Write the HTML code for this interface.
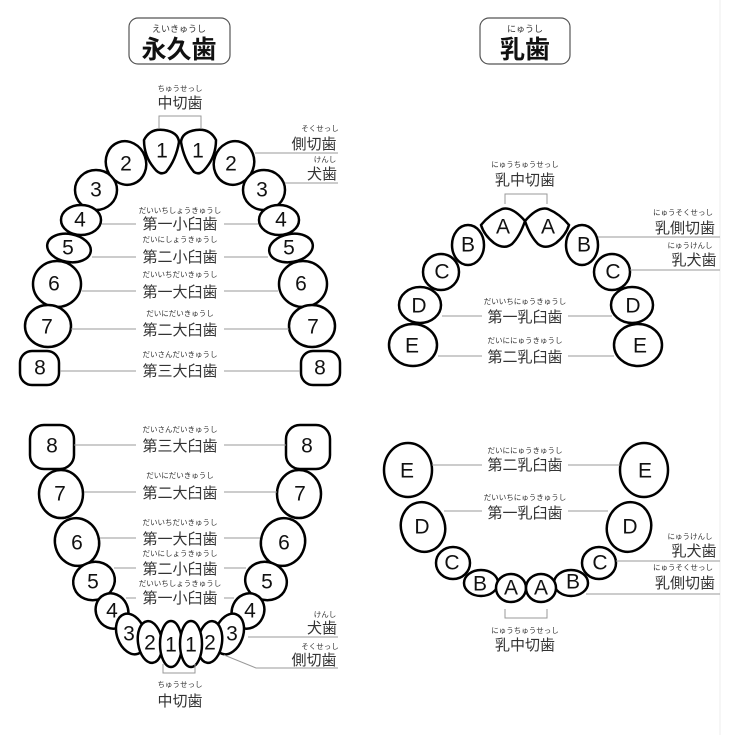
<!DOCTYPE html>
<html><head><meta charset="utf-8"><style>
html,body{margin:0;padding:0;background:#fff;width:750px;height:735px;overflow:hidden}
svg{display:block}
.t{fill:#fff;stroke:#000;stroke-width:2.5}
.n{font-family:"Liberation Sans",sans-serif;font-size:21px;text-anchor:middle;dominant-baseline:central;fill:#111}
.k{font-family:"Liberation Sans","Noto Sans CJK JP",sans-serif;font-size:15px;fill:#333;text-anchor:middle}
.r{font-family:"Liberation Sans","Noto Sans CJK JP",sans-serif;font-size:7.5px;fill:#333;text-anchor:middle}
.l{stroke:#999;stroke-width:1;fill:none}
</style></head><body>
<svg width="750" height="735" viewBox="0 0 750 735">
<line x1="720" y1="0" x2="720" y2="735" stroke="#eee" stroke-width="1"/>
<!-- titles -->
<rect x="129" y="18" width="101" height="46" rx="9" fill="#fff" stroke="#555" stroke-width="1.2"/>
<text class="r" x="179" y="32" style="font-size:9px">えいきゅうし</text>
<text class="k" x="179" y="58" style="font-size:25px;fill:#111;font-weight:bold">永久歯</text>
<rect x="480" y="18" width="90" height="46" rx="9" fill="#fff" stroke="#555" stroke-width="1.2"/>
<text class="r" x="525" y="32" style="font-size:9px">にゅうし</text>
<text class="k" x="525" y="58" style="font-size:25px;fill:#111;font-weight:bold">乳歯</text>

<!-- ===== Upper permanent ===== -->
<text class="r" x="180" y="91">ちゅうせっし</text>
<text class="k" x="180" y="108">中切歯</text>
<path class="l" d="M159 128V116H201V128"/>
<g>
<path class="t" d="M144 140 Q150 128 164 130 Q178 132 179 142 Q176 160 166 172 Q160 176 154 168 Q144 156 144 140Z"/>
<path class="t" d="M216 140 Q210 128 196 130 Q182 132 181 142 Q184 160 194 172 Q200 176 206 168 Q216 156 216 140Z"/>
<text class="n" x="162" y="151">1</text><text class="n" x="198" y="151">1</text>
<ellipse class="t" cx="126" cy="163" rx="20" ry="22" transform="rotate(-20 126 163)"/>
<ellipse class="t" cx="234" cy="163" rx="20" ry="22" transform="rotate(20 234 163)"/>
<text class="n" x="126" y="164">2</text><text class="n" x="231" y="164">2</text>
<ellipse class="t" cx="96" cy="190" rx="21" ry="20"/>
<ellipse class="t" cx="264" cy="190" rx="21" ry="20"/>
<text class="n" x="96" y="190">3</text><text class="n" x="262" y="190">3</text>
<ellipse class="t" cx="81" cy="220" rx="20" ry="15"/>
<ellipse class="t" cx="279" cy="220" rx="20" ry="15"/>
<text class="n" x="80" y="220">4</text><text class="n" x="281" y="220">4</text>
<ellipse class="t" cx="69" cy="248" rx="22" ry="14" transform="rotate(10 69 248)"/>
<ellipse class="t" cx="291" cy="248" rx="22" ry="14" transform="rotate(-10 291 248)"/>
<text class="n" x="68" y="248">5</text><text class="n" x="289" y="248">5</text>
<ellipse class="t" cx="57" cy="284" rx="24" ry="23"/>
<ellipse class="t" cx="303" cy="284" rx="24" ry="23"/>
<text class="n" x="54" y="284">6</text><text class="n" x="301" y="284">6</text>
<ellipse class="t" cx="48" cy="326" rx="23" ry="21"/>
<ellipse class="t" cx="312" cy="326" rx="23" ry="21"/>
<text class="n" x="47" y="327">7</text><text class="n" x="313" y="327">7</text>
<rect class="t" x="20" y="351" width="39" height="34" rx="12"/>
<rect class="t" x="301" y="351" width="39" height="34" rx="12"/>
<text class="n" x="40" y="368">8</text><text class="n" x="320" y="368">8</text>
</g>
<path class="l" d="M255 153H338M285 183H338"/>
<text class="r" x="320" y="131">そくせっし</text><text class="k" x="314" y="149" style="text-anchor:middle">側切歯</text>
<text class="r" x="325" y="162">けんし</text><text class="k" x="322" y="179">犬歯</text>
<g>
<text class="r" x="180" y="213">だいいちしょうきゅうし</text><text class="k" x="180" y="229">第一小臼歯</text>
<path class="l" d="M102 224H136M224 224H258"/>
<text class="r" x="180" y="242">だいにしょうきゅうし</text><text class="k" x="180" y="262">第二小臼歯</text>
<path class="l" d="M92 257H136M224 257H268"/>
<text class="r" x="180" y="277">だいいちだいきゅうし</text><text class="k" x="180" y="297">第一大臼歯</text>
<path class="l" d="M82 291H136M224 291H278"/>
<text class="r" x="180" y="316">だいにだいきゅうし</text><text class="k" x="180" y="335">第二大臼歯</text>
<path class="l" d="M71 329H136M224 329H289"/>
<text class="r" x="180" y="357">だいさんだいきゅうし</text><text class="k" x="180" y="376">第三大臼歯</text>
<path class="l" d="M60 371H136M224 371H300"/>
</g>

<!-- ===== Lower permanent ===== -->
<g>
<rect class="t" x="30" y="425" width="44" height="44" rx="14"/>
<rect class="t" x="286" y="425" width="44" height="44" rx="14"/>
<text class="n" x="52" y="446">8</text><text class="n" x="307" y="446">8</text>
<ellipse class="t" cx="61" cy="494" rx="22" ry="24"/>
<ellipse class="t" cx="299" cy="494" rx="22" ry="24"/>
<text class="n" x="60" y="494">7</text><text class="n" x="300" y="494">7</text>
<ellipse class="t" cx="77" cy="542" rx="22" ry="24" transform="rotate(-15 77 542)"/>
<ellipse class="t" cx="283" cy="542" rx="22" ry="24" transform="rotate(15 283 542)"/>
<text class="n" x="77" y="543">6</text><text class="n" x="284" y="543">6</text>
<ellipse class="t" cx="94" cy="581" rx="21" ry="19" transform="rotate(-20 94 581)"/>
<ellipse class="t" cx="266" cy="581" rx="21" ry="19" transform="rotate(20 266 581)"/>
<text class="n" x="93" y="582">5</text><text class="n" x="267" y="582">5</text>
<ellipse class="t" cx="112" cy="611" rx="16" ry="18" transform="rotate(-25 112 611)"/>
<ellipse class="t" cx="248" cy="611" rx="16" ry="18" transform="rotate(25 248 611)"/>
<text class="n" x="112" y="611">4</text><text class="n" x="250" y="611">4</text>
<ellipse class="t" cx="131" cy="634" rx="14" ry="21" transform="rotate(-20 131 634)"/>
<ellipse class="t" cx="229" cy="634" rx="14" ry="21" transform="rotate(20 229 634)"/>
<text class="n" x="129" y="634">3</text><text class="n" x="232" y="634">3</text>
<ellipse class="t" cx="150" cy="642" rx="12" ry="21" transform="rotate(-8 150 642)"/>
<ellipse class="t" cx="210" cy="642" rx="12" ry="21" transform="rotate(8 210 642)"/>
<text class="n" x="150" y="643">2</text><text class="n" x="210" y="643">2</text>
<ellipse class="t" cx="171" cy="644" rx="11" ry="23"/>
<ellipse class="t" cx="191" cy="644" rx="11" ry="23"/>
<text class="n" x="171" y="645">1</text><text class="n" x="191" y="645">1</text>
</g>
<g>
<text class="r" x="180" y="432">だいさんだいきゅうし</text><text class="k" x="180" y="451">第三大臼歯</text>
<path class="l" d="M74 445H136M224 445H286"/>
<text class="r" x="180" y="478">だいにだいきゅうし</text><text class="k" x="180" y="498">第二大臼歯</text>
<path class="l" d="M84 492H136M224 492H277"/>
<text class="r" x="180" y="525">だいいちだいきゅうし</text><text class="k" x="180" y="544">第一大臼歯</text>
<path class="l" d="M100 538H136M224 538H260"/>
<text class="r" x="180" y="556">だいにしょうきゅうし</text><text class="k" x="180" y="574">第二小臼歯</text>
<path class="l" d="M114 568H136M224 568H246"/>
<text class="r" x="180" y="586">だいいちしょうきゅうし</text><text class="k" x="180" y="603">第一小臼歯</text>
<path class="l" d="M126 598H136M224 598H234"/>
</g>
<text class="r" x="325" y="617">けんし</text><text class="k" x="322" y="633">犬歯</text>
<path class="l" d="M248 637H338"/>
<text class="r" x="320" y="649">そくせっし</text><text class="k" x="314" y="665">側切歯</text>
<path class="l" d="M224 655L256 668H338"/>
<path class="l" d="M163 664V673H195V664"/>
<text class="r" x="180" y="687">ちゅうせっし</text><text class="k" x="180" y="706">中切歯</text>

<!-- ===== Upper primary ===== -->
<text class="r" x="525" y="167">にゅうちゅうせっし</text>
<text class="k" x="525" y="185">乳中切歯</text>
<path class="l" d="M505 204V194H547V204"/>
<g>
<path class="t" d="M481 225 Q490 214 502 209 Q512 206 525 221 Q520 236 512 244 Q504 250 494 243 Q484 235 481 225Z"/>
<path class="t" d="M569 225 Q560 214 548 209 Q538 206 525 221 Q530 236 538 244 Q546 250 556 243 Q566 235 569 225Z"/>
<text class="n" x="503" y="227">A</text><text class="n" x="548" y="227">A</text>
<ellipse class="t" cx="468" cy="245" rx="16" ry="20"/>
<ellipse class="t" cx="582" cy="245" rx="16" ry="20"/>
<text class="n" x="468" y="245">B</text><text class="n" x="584" y="245">B</text>
<ellipse class="t" cx="441" cy="272" rx="18" ry="18"/>
<ellipse class="t" cx="612" cy="272" rx="18" ry="18"/>
<text class="n" x="442" y="272">C</text><text class="n" x="613" y="272">C</text>
<ellipse class="t" cx="420" cy="305" rx="21" ry="18"/>
<ellipse class="t" cx="632" cy="305" rx="21" ry="18"/>
<text class="n" x="419" y="306">D</text><text class="n" x="633" y="306">D</text>
<ellipse class="t" cx="413" cy="345" rx="24" ry="21"/>
<ellipse class="t" cx="638" cy="345" rx="24" ry="21"/>
<text class="n" x="412" y="346">E</text><text class="n" x="640" y="346">E</text>
</g>
<path class="l" d="M598 237H720M630 270H720"/>
<text class="r" x="683" y="215">にゅうそくせっし</text><text class="k" x="685" y="233">乳側切歯</text>
<text class="r" x="690" y="248">にゅうけんし</text><text class="k" x="694" y="265">乳犬歯</text>
<text class="r" x="525" y="304">だいいちにゅうきゅうし</text><text class="k" x="525" y="322">第一乳臼歯</text>
<path class="l" d="M442 316H482M568 316H612"/>
<text class="r" x="525" y="343">だいににゅうきゅうし</text><text class="k" x="525" y="362">第二乳臼歯</text>
<path class="l" d="M438 356H482M568 356H614"/>

<!-- ===== Lower primary ===== -->
<g>
<ellipse class="t" cx="408" cy="470" rx="24" ry="27"/>
<ellipse class="t" cx="644" cy="470" rx="24" ry="27"/>
<text class="n" x="407" y="471">E</text><text class="n" x="645" y="471">E</text>
<ellipse class="t" cx="423" cy="527" rx="22" ry="25" transform="rotate(-15 423 527)"/>
<ellipse class="t" cx="629" cy="527" rx="22" ry="25" transform="rotate(15 629 527)"/>
<text class="n" x="422" y="527">D</text><text class="n" x="630" y="527">D</text>
<ellipse class="t" cx="453" cy="563" rx="17" ry="16"/>
<ellipse class="t" cx="599" cy="563" rx="17" ry="16"/>
<text class="n" x="452" y="563">C</text><text class="n" x="600" y="563">C</text>
<ellipse class="t" cx="481" cy="583" rx="17" ry="13"/>
<ellipse class="t" cx="571" cy="583" rx="17" ry="13"/>
<text class="n" x="480" y="584">B</text><text class="n" x="573" y="582">B</text>
<ellipse class="t" cx="511" cy="588" rx="15" ry="14"/>
<ellipse class="t" cx="541" cy="588" rx="15" ry="14"/>
<text class="n" x="511" y="588">A</text><text class="n" x="541" y="588">A</text>
</g>
<text class="r" x="525" y="453">だいににゅうきゅうし</text><text class="k" x="525" y="470">第二乳臼歯</text>
<path class="l" d="M432 465H482M568 465H620"/>
<text class="r" x="525" y="500">だいいちにゅうきゅうし</text><text class="k" x="525" y="518">第一乳臼歯</text>
<path class="l" d="M444 511H482M568 511H608"/>
<text class="r" x="690" y="539">にゅうけんし</text><text class="k" x="694" y="556">乳犬歯</text>
<path class="l" d="M616 561H720"/>
<text class="r" x="683" y="570">にゅうそくせっし</text><text class="k" x="685" y="588">乳側切歯</text>
<path class="l" d="M586 594H720"/>
<path class="l" d="M505 609V618H547V609"/>
<text class="r" x="525" y="633">にゅうちゅうせっし</text><text class="k" x="525" y="650">乳中切歯</text>
</svg>
</body></html>
